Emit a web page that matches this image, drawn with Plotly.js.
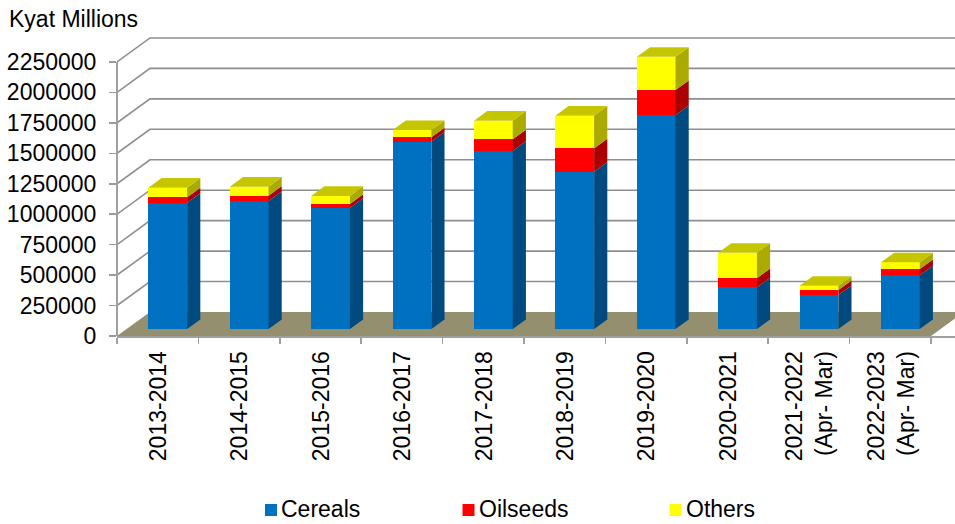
<!DOCTYPE html>
<html>
<head>
<meta charset="utf-8">
<script src="https://cdn.plot.ly/plotly-3.0.1.min.js"></script>
<style>html,body{margin:0;padding:0;background:#fff}#chart{width:955px;height:524px}</style>
</head>
<body>
<div id="chart"></div>
<script>
// ---- data ----
const categories = ['2013-2014','2014-2015','2015-2016','2016-2017','2017-2018','2018-2019','2019-2020','2020-2021','2021-2022<br>(Apr- Mar)','2022-2023<br>(Apr- Mar)'];
const cereals  = [1037000,1051000,994000,1538000,1462000,1292000,1757000,342000,279000,441000];
const oilseeds = [44000,44000,33000,36000,96000,192000,205000,76000,41000,52000];
const others   = [80000,74000,66000,60000,153000,268000,273000,208000,35000,55000];
const yTicks = [0,250000,500000,750000,1000000,1250000,1500000,1750000,2000000,2250000];
const seriesNames = ['Cereals','Oilseeds','Others'];

// ---- oblique-projection styling ----
const W = 955, H = 524, mL = 117, mT = 30, mB = 188;
const plotW = W - mL, plotH = H - mT - mB;
const xUnit = 81.4;                 // px per category
const yPerPx = 250000 / 30.45;      // value per px
const depthX = 33 / xUnit, depthY = 24 * yPerPx;   // full depth of the 3-D box
const frontFracX = 0.305, frontFracY = 0.29, barDepthFrac = 0.40;  // bar placement within depth
const barW = 38.7 / xUnit;
const n = categories.length;
const frontColors = ['#0070C0','#FF0000','#FFFF00'];
const sideColors  = ['#004A80','#AA0000','#AAAA00'];
const topColor = '#C6C600';
const gridColor = '#8E8E8E';
const axisColor = '#A0A0A0';
const font = 'Liberation Sans, Arial, sans-serif';
const fontSize = 23;

const series = [cereals, oilseeds, others];
const xc = categories.map((_, i) => i + 0.5 + frontFracX * depthX);
const floorBase = frontFracY * depthY;
const sx = barDepthFrac * depthX, sy = barDepthFrac * depthY;

let cum = categories.map(() => floorBase);
const traces = [], overlays = [];
series.forEach((vals, s) => {
  const base = cum.slice();
  traces.push({type:'bar', name:seriesNames[s], x:xc, y:vals, base:base, width:barW,
    marker:{color:frontColors[s], line:{width:0}}, showlegend:false, hoverinfo:'skip'});
  const px = [], py = [];
  vals.forEach((v, i) => {
    const x1 = xc[i] + barW/2, b = base[i], t = base[i] + v;
    px.push(x1, x1+sx, x1+sx, x1, x1, null);
    py.push(b, b+sy, t+sy, t, b, null);
  });
  overlays.push({type:'scatter', mode:'lines', x:px, y:py, fill:'toself', fillcolor:sideColors[s],
    line:{width:0, color:sideColors[s]}, showlegend:false, hoverinfo:'skip'});
  cum = cum.map((c, i) => c + vals[i]);
});
const tx = [], ty = [];
cum.forEach((t, i) => {
  const x0 = xc[i] - barW/2, x1 = xc[i] + barW/2;
  tx.push(x0, x1, x1+sx, x0+sx, x0, null);
  ty.push(t, t, t+sy, t+sy, t, null);
});
overlays.push({type:'scatter', mode:'lines', x:tx, y:ty, fill:'toself', fillcolor:topColor,
  line:{width:0, color:topColor}, showlegend:false, hoverinfo:'skip'});

// ---- back wall grid and floor ----
const xEnd = plotW / xUnit + 1;
const shapes = [];
shapes.push({type:'path', xref:'x', yref:'y', layer:'below', line:{width:0}, fillcolor:'#948F6F',
  path:`M0,0 L${n},0 L${n+depthX},${depthY} L${depthX},${depthY} Z`});
yTicks.forEach(v => {
  if (v > 0) shapes.push({type:'path', xref:'x', yref:'y', layer:'below',
    line:{color:gridColor, width:1.6},
    path:`M0,${v} L${depthX},${v+depthY} L${xEnd},${v+depthY}`});
});
// value axis stops at the last tick
shapes.push({type:'line', xref:'paper', yref:'y', x0:0, x1:0, y0:0, y1:yTicks[yTicks.length-1],
  xsizemode:'scaled', line:{color:axisColor, width:2}});

// ---- legend (px placement of the original) ----
const toPX = p => (p - mL) / plotW;
const toPY = p => (H - mB - p) / plotH;
const legendX = [265, 462.5, 669.5];
const legendY = 510;
const annotations = [];
seriesNames.forEach((name, s) => {
  shapes.push({type:'rect', xref:'paper', yref:'paper', line:{width:0}, fillcolor:frontColors[s],
    x0:toPX(legendX[s]), x1:toPX(legendX[s]+12), y0:toPY(legendY+6), y1:toPY(legendY-6)});
  annotations.push({xref:'paper', yref:'paper', x:toPX(legendX[s]+15), y:toPY(legendY-1),
    xanchor:'left', yanchor:'middle', showarrow:false, text:name,
    font:{family:font, size:fontSize, color:'#000'}, borderpad:0});
});

const layout = {
  width:W, height:H,
  margin:{l:mL, r:0, t:mT, b:mB, pad:0},
  paper_bgcolor:'#fff', plot_bgcolor:'rgba(0,0,0,0)',
  barmode:'overlay', bargap:0,
  showlegend:false,
  title:{text:'Kyat Millions', xref:'container', yref:'container', x:9/W, xanchor:'left',
    y:1-19/H, yanchor:'middle', font:{family:font, size:fontSize, color:'#000'}},
  font:{family:font, size:fontSize, color:'#000'},
  xaxis:{type:'linear', range:[0, plotW/xUnit], tickmode:'array',
    tickvals:categories.map((_, i) => i + 0.51), ticktext:categories, tickangle:-90,
    ticks:'', showgrid:false, zeroline:false, showline:true, linecolor:axisColor, linewidth:2,
    ticklabelstandoff:4, tickfont:{family:font, size:fontSize, color:'#000'},
    minor:{tickmode:'array', tickvals:categories.map((_, i) => i).concat([n]), ticks:'outside',
      ticklen:6, tickcolor:axisColor, tickwidth:1.5, showgrid:false}},
  yaxis:{range:[0, plotH*yPerPx], tickmode:'array', tickvals:yTicks,
    ticktext:yTicks.map(String), ticks:'outside', ticklen:7, tickcolor:'#9A9A9A', tickwidth:1.5,
    showgrid:false, zeroline:false, showline:false,
    ticklabelstandoff:8, tickfont:{family:font, size:fontSize, color:'#000'}},
  shapes, annotations
};
Plotly.newPlot('chart', traces.concat(overlays), layout, {displayModeBar:false, staticPlot:true});
</script>
</body>
</html>
